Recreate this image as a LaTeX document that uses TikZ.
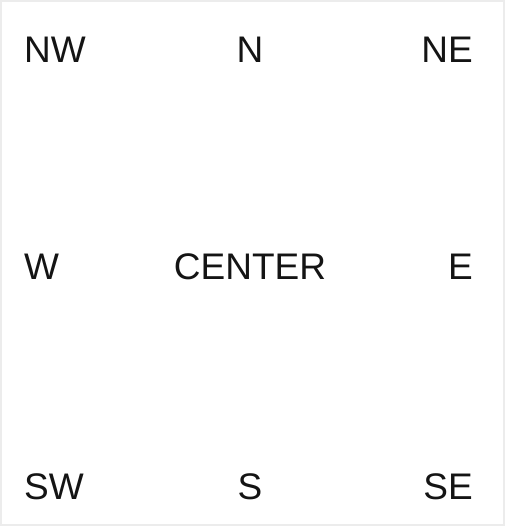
\documentclass[tikz,border=0pt]{standalone}
\usepackage{fontspec}
\setmainfont{Liberation Sans}
\usepackage{tikz}
\definecolor{myframe}{RGB}{236,236,236}
\definecolor{mytext}{RGB}{20,20,20}
\tikzset{
  dirlabel/.style={inner sep=0pt, font=\fontsize{37}{40}\selectfont, text=mytext}
}

\begin{document}
\begin{tikzpicture}[x=1pt, y=1pt]
  % frame
  \draw[myframe, line width=1.5pt] (1,1) rectangle (504,525);
  \useasboundingbox (0,0) rectangle (505,526);

  % top row
  \node[dirlabel, anchor=west] (nw) at (24,476) {NW};
  \node[dirlabel] (n) at (250,476) {N};
  \node[dirlabel, anchor=east] (ne) at (473,476) {NE};

  % middle row
  \node[dirlabel, anchor=west] (w) at (24,259) {W};
  \node[dirlabel] (center) at (250,259) {CENTER};
  \node[dirlabel, anchor=east] (e) at (473,259) {E};

  % bottom row
  \node[dirlabel, anchor=west] (sw) at (24,39) {SW};
  \node[dirlabel] (s) at (250,39) {S};
  \node[dirlabel, anchor=east] (se) at (473,39) {SE};
\end{tikzpicture}
\end{document}
